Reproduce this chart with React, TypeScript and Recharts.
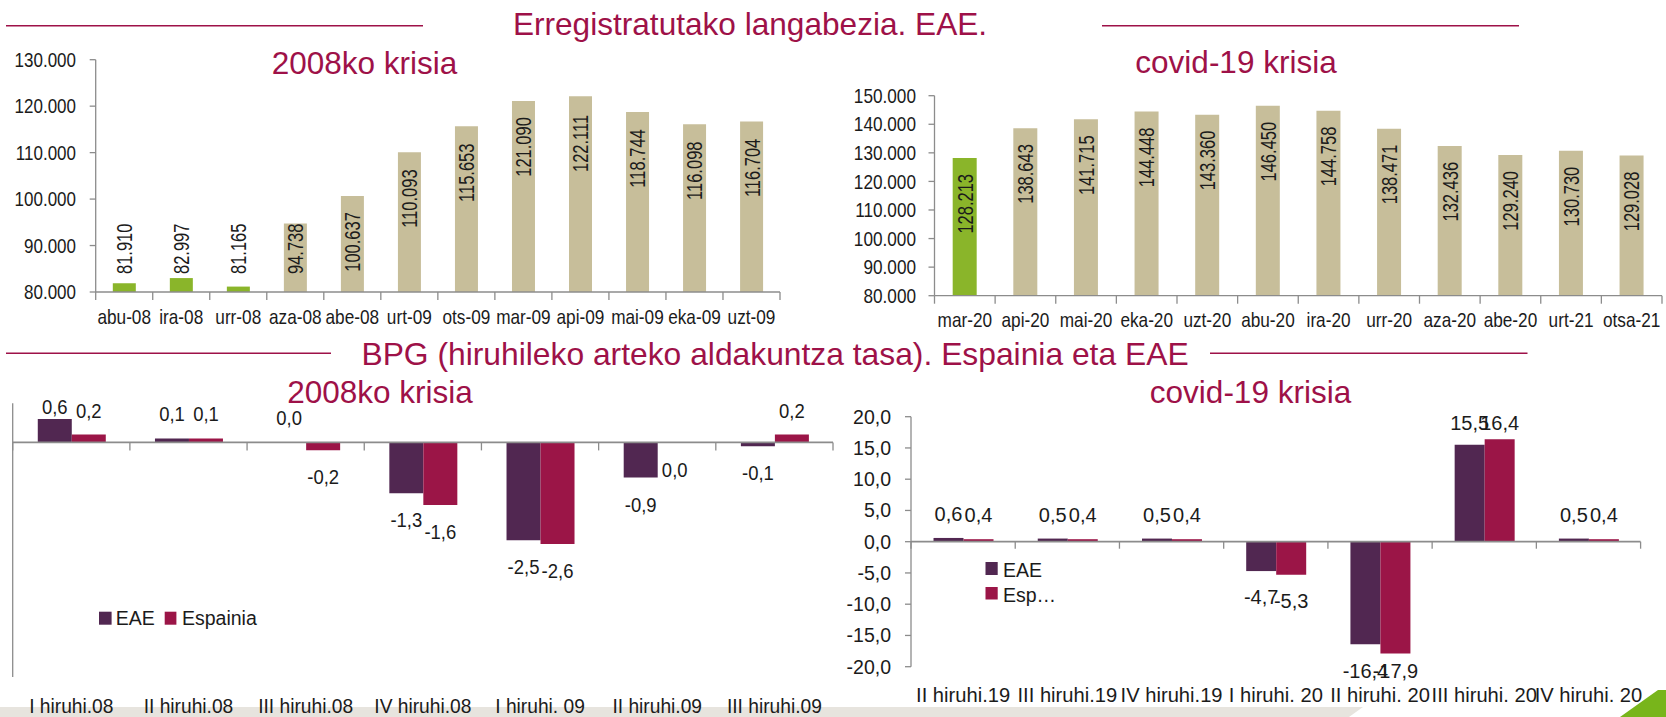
import React from 'react';
import { BarChart, Bar, XAxis, YAxis, Cell, ReferenceLine } from 'recharts';

const W = 1666;
const H = 717;
const FONT = '"Liberation Sans", Arial, Helvetica, sans-serif';
const INK = '#1b1b1b';
const TITLE = '#9E1148';
const AXIS = '#8C8C8C';
const GREEN = '#8AB52A';
const TAN = '#C7BE9A';
const EAE_C = '#512751';
const ESP_C = '#9B1547';

// ---------------- data ----------------
const mainTitleUnemp = 'Erregistratutako langabezia. EAE.';
const mainTitleGdp = 'BPG (hiruhileko arteko aldakuntza tasa). Espainia eta EAE';
const crisis2008 = '2008ko krisia';
const crisisCovid = 'covid-19 krisia';

const unempMonths2008 = ['abu-08', 'ira-08', 'urr-08', 'aza-08', 'abe-08', 'urt-09', 'ots-09', 'mar-09', 'api-09', 'mai-09', 'eka-09', 'uzt-09'];
const unemp2008 = [81910, 82997, 81165, 94738, 100637, 110093, 115653, 121090, 122111, 118744, 116098, 116704];
const unempGreen2008 = ['abu-08', 'ira-08', 'urr-08'];
const unempTicks2008 = [80000, 90000, 100000, 110000, 120000, 130000];

const unempMonthsCovid = ['mar-20', 'api-20', 'mai-20', 'eka-20', 'uzt-20', 'abu-20', 'ira-20', 'urr-20', 'aza-20', 'abe-20', 'urt-21', 'otsa-21'];
const unempCovid = [128213, 138643, 141715, 144448, 143360, 146450, 144758, 138471, 132436, 129240, 130730, 129028];
const unempGreenCovid = ['mar-20'];
const unempTicksCovid = [80000, 90000, 100000, 110000, 120000, 130000, 140000, 150000];

const gdpQuarters2008 = ['I hiruhi.08', 'II hiruhi.08', 'III hiruhi.08', 'IV hiruhi.08', 'I hiruhi. 09', 'II hiruhi.09', 'III hiruhi.09'];
const gdpEae2008 = [0.6, 0.1, 0.01, -1.3, -2.5, -0.9, -0.1];
const gdpEsp2008 = [0.2, 0.1, -0.2, -1.6, -2.6, -0.01, 0.2];
const gdpTicks2008 = [-6, -5, -4, -3, -2, -1, 0, 1];

const gdpQuartersCovid = ['II hiruhi.19', 'III hiruhi.19', 'IV hiruhi.19', 'I hiruhi. 20', 'II hiruhi. 20', 'III hiruhi. 20', 'IV hiruhi. 20'];
const gdpEaeCovid = [0.6, 0.5, 0.5, -4.7, -16.4, 15.5, 0.5];
const gdpEspCovid = [0.4, 0.4, 0.4, -5.3, -17.9, 16.4, 0.4];
const gdpTicksCovid = [-20, -15, -10, -5, 0, 5, 10, 15, 20];

const seriesEae = 'EAE';
const seriesEsp = 'Espainia';
const seriesEspShort = 'Esp…';

// ---------------- helpers ----------------
const fmtThousands = (v: number) => String(Math.round(v)).replace(/\B(?=(\d{3})+(?!\d))/g, '.');
const fmtComma = (v: number) => (Math.abs(v) < 0.05 ? '0,0' : v.toFixed(1).replace('.', ','));
const emWidth = (s: string) => {
  let w = 0;
  for (const ch of s) w += /[0-9]/.test(ch) ? 0.556 : ch === '-' ? 0.333 : 0.278;
  return w;
};

type Box = { left: number; right: number; top: number; bottom: number };

function STxt(props: any) {
  const { x, y, sx = 1, anchor = 'middle', size, fill = INK, rot = 0, dy, children } = props;
  const t = `translate(${x},${y})${rot ? ` rotate(${rot})` : ''} scale(${sx},1)`;
  return (
    <text transform={t} textAnchor={anchor} fontSize={size} fontFamily={FONT} fill={fill} dy={dy}>
      {children}
    </text>
  );
}

function makeCatTick(box: Box, n: number, o: { base: number; size: number; sx: number; lineY?: number; tickLen: number }) {
  const bw = (box.right - box.left) / n;
  return (p: any) => {
    const { x, payload, index } = p;
    const ly = o.lineY ?? box.bottom;
    const marks = [x - bw / 2];
    if (index === n - 1) marks.push(x + bw / 2);
    return (
      <g>
        {marks.map((mx, k) => (
          <line key={k} x1={mx} x2={mx} y1={ly} y2={ly + o.tickLen} stroke={AXIS} strokeWidth={1.3} />
        ))}
        <STxt x={x} y={box.bottom + o.base} size={o.size} sx={o.sx}>
          {payload.value}
        </STxt>
      </g>
    );
  };
}

function makeValTick(fmt: (v: number) => string, size: number, sx: number) {
  return (p: any) => (
    <STxt x={p.x} y={p.y} anchor="end" size={size} sx={sx} dy="0.355em">
      {fmt(p.payload.value)}
    </STxt>
  );
}

function geom(p: any) {
  const vb = p.viewBox && typeof p.viewBox.x === 'number' ? p.viewBox : p;
  const x = vb.x, y = vb.y, w = vb.width, h = vb.height;
  return { cx: x + w / 2, top: Math.min(y, y + h), bottom: Math.max(y, y + h) };
}

function makeRotLabel(box: Box, values: number[]) {
  return (p: any) => {
    const { cx, top } = geom(p);
    const v = typeof p.value === 'number' ? p.value : values[p.index];
    const s = fmtThousands(v);
    const fs = 22, sx = 0.75;
    const L = fs * sx * emWidth(s);
    const ys = Math.min(top + 16 + L, box.bottom - 18);
    return (
      <STxt x={cx} y={ys} rot={-90} sx={sx} anchor="start" size={fs} dy="0.36em">
        {s}
      </STxt>
    );
  };
}

function makeGdpLabel(box: Box, values: number[], o: { size: number; sx: number; clamp: number; negGap: number; negClamp: number }) {
  return (p: any) => {
    const { cx, top, bottom } = geom(p);
    const v = typeof p.value === 'number' ? p.value : values[p.index];
    const base = v >= 0
      ? Math.max(top - 17, box.top + o.clamp)
      : Math.min(bottom + o.negGap, box.bottom + o.negClamp);
    return (
      <STxt x={cx} y={base} size={o.size} sx={o.sx}>
        {fmtComma(v)}
      </STxt>
    );
  };
}

const XH = 40;
function marginFor(box: Box, yw: number) {
  return { top: box.top, right: W - box.right, bottom: H - box.bottom - XH, left: box.left - yw };
}
const layer: React.CSSProperties = { position: 'absolute', left: 0, top: 0 };

// ---------------- charts ----------------
function UnempChart(props: { cats: string[]; vals: number[]; green: string[]; ticks: number[]; box: Box; yw: number; tickMargin: number; ySize: number; ySx: number }) {
  const { cats, vals, green, ticks, box, yw, tickMargin, ySize, ySx } = props;
  const data = cats.map((c, i) => ({ cat: c, v: vals[i] }));
  return (
    <div style={layer}>
      <BarChart width={W} height={H} data={data} margin={marginFor(box, yw)} barCategoryGap="30%">
        <XAxis
          dataKey="cat"
          height={XH}
          interval={0}
          tickSize={0}
          tickMargin={0}
          tickLine={false}
          axisLine={{ stroke: AXIS, strokeWidth: 1.3 }}
          tick={makeCatTick(box, cats.length, { base: 31.5, size: 21, sx: 0.82, tickLen: 8 })}
        />
        <YAxis
          width={yw}
          type="number"
          domain={[ticks[0], ticks[ticks.length - 1]]}
          ticks={ticks}
          interval={0}
          tickSize={6}
          tickMargin={tickMargin}
          axisLine={{ stroke: AXIS, strokeWidth: 1.3 }}
          tickLine={{ stroke: AXIS, strokeWidth: 1.3 }}
          tick={makeValTick(fmtThousands, ySize, ySx)}
        />
        <Bar dataKey="v" isAnimationActive={false} label={makeRotLabel(box, vals)}>
          {data.map((d) => (
            <Cell key={d.cat} fill={green.includes(d.cat) ? GREEN : TAN} />
          ))}
        </Bar>
      </BarChart>
    </div>
  );
}

function GdpChart(props: {
  cats: string[]; eae: number[]; esp: number[]; ticks: number[]; box: Box; yw: number; tickMargin: number;
  showYLabels: boolean; ySize: number; xBase: number; xSize: number; xSx: number; tickLen: number;
  lSize: number; lSx: number; clamp: number; negGap: number; negClamp: number; gap: string;
}) {
  const p = props;
  const data = p.cats.map((c, i) => ({ cat: c, eae: p.eae[i], esp: p.esp[i] }));
  const lo = p.ticks[0], hi = p.ticks[p.ticks.length - 1];
  const zeroY = p.box.top + ((hi - 0) / (hi - lo)) * (p.box.bottom - p.box.top);
  const lab = { size: p.lSize, sx: p.lSx, clamp: p.clamp, negGap: p.negGap, negClamp: p.negClamp };
  return (
    <div style={layer}>
      <BarChart width={W} height={H} data={data} margin={marginFor(p.box, p.yw)} barCategoryGap={p.gap} barGap={0}>
        <XAxis
          dataKey="cat"
          height={XH}
          interval={0}
          tickSize={0}
          tickMargin={0}
          tickLine={false}
          axisLine={false}
          tick={makeCatTick(p.box, p.cats.length, { base: p.xBase, size: p.xSize, sx: p.xSx, lineY: zeroY, tickLen: p.tickLen })}
        />
        <YAxis
          width={p.yw}
          type="number"
          domain={[lo, hi]}
          ticks={p.ticks}
          interval={0}
          tickSize={6}
          tickMargin={p.tickMargin}
          axisLine={{ stroke: AXIS, strokeWidth: 1.3 }}
          tickLine={{ stroke: AXIS, strokeWidth: 1.3 }}
          tick={p.showYLabels ? makeValTick(fmtComma, p.ySize, 1) : false}
        />
        <ReferenceLine y={0} stroke={AXIS} strokeWidth={1.8} />
        <Bar dataKey="eae" name={seriesEae} fill={EAE_C} isAnimationActive={false} label={makeGdpLabel(p.box, p.eae, lab)} />
        <Bar dataKey="esp" name={seriesEsp} fill={ESP_C} isAnimationActive={false} label={makeGdpLabel(p.box, p.esp, lab)} />
      </BarChart>
    </div>
  );
}

const boxTL: Box = { left: 95.7, right: 780, top: 59.7, bottom: 292 };
const boxTR: Box = { left: 934.5, right: 1662, top: 95.7, bottom: 295.7 };
const boxBL: Box = { left: 12.7, right: 833, top: 403.3, bottom: 677 };
const boxBR: Box = { left: 911, right: 1640.6, top: 416.7, bottom: 666.7 };

export default function App() {
  return (
    <div style={{ position: 'absolute', left: 0, top: 0, width: W, height: H, background: '#fff', overflow: 'hidden' }}>
      <svg style={layer} width={W} height={H}>
        <polygon points="0,707 1363,707 1349,717 0,717" fill="#E7E4DE" />
        <polygon points="1620,717 1658,690 1666,690 1666,717" fill="#78B51B" />
      </svg>

      <UnempChart cats={unempMonths2008} vals={unemp2008} green={unempGreen2008} ticks={unempTicks2008}
        box={boxTL} yw={95} tickMargin={13.7} ySize={20} ySx={0.85} />
      <UnempChart cats={unempMonthsCovid} vals={unempCovid} green={unempGreenCovid} ticks={unempTicksCovid}
        box={boxTR} yw={100} tickMargin={12.5} ySize={20} ySx={0.86} />

      <GdpChart cats={gdpQuarters2008} eae={gdpEae2008} esp={gdpEsp2008} ticks={gdpTicks2008} box={boxBL}
        yw={12.7} tickMargin={2} showYLabels={false} ySize={20} xBase={35.7} xSize={20} xSx={0.96} tickLen={8}
        lSize={21} lSx={0.88} clamp={10.7} negGap={34} negClamp={40} gap="21.4%" />
      <GdpChart cats={gdpQuartersCovid} eae={gdpEaeCovid} esp={gdpEspCovid} ticks={gdpTicksCovid} box={boxBR}
        yw={100} tickMargin={14} showYLabels={true} ySize={19.5} xBase={35} xSize={21} xSx={0.96} tickLen={7}
        lSize={20} lSx={1} clamp={13} negGap={33.3} negClamp={11.5} gap="21.6%" />

      <svg style={layer} width={W} height={H}>
        <line x1={6} x2={423} y1={25.7} y2={25.7} stroke={TITLE} strokeWidth={1.5} />
        <line x1={1102} x2={1519} y1={25.7} y2={25.7} stroke={TITLE} strokeWidth={1.5} />
        <STxt x={750} y={35} size={31.6} fill={TITLE}>{mainTitleUnemp}</STxt>
        <STxt x={364.5} y={74} size={31.5} fill={TITLE}>{crisis2008}</STxt>
        <STxt x={1236} y={73} size={31.5} fill={TITLE}>{crisisCovid}</STxt>

        <line x1={6} x2={331} y1={353.3} y2={353.3} stroke={TITLE} strokeWidth={1.5} />
        <line x1={1210} x2={1527.5} y1={353.3} y2={353.3} stroke={TITLE} strokeWidth={1.5} />
        <STxt x={775} y={365} size={31.8} fill={TITLE}>{mainTitleGdp}</STxt>
        <STxt x={380} y={403.3} size={31.5} fill={TITLE}>{crisis2008}</STxt>
        <STxt x={1250.5} y={403} size={31.5} fill={TITLE}>{crisisCovid}</STxt>

        <rect x={99} y={611.7} width={12.6} height={13} fill={EAE_C} />
        <STxt x={115.8} y={625} size={19.5} anchor="start">{seriesEae}</STxt>
        <rect x={164.7} y={611.7} width={11.7} height={13} fill={ESP_C} />
        <STxt x={182} y={625} size={19.5} anchor="start">{seriesEsp}</STxt>

        <rect x={985.5} y={562} width={12.2} height={13} fill={EAE_C} />
        <STxt x={1003} y={576.7} size={19.5} anchor="start">{seriesEae}</STxt>
        <rect x={985.5} y={587} width={12.2} height={12.5} fill={ESP_C} />
        <STxt x={1003} y={601.7} size={19.5} anchor="start">{seriesEspShort}</STxt>
      </svg>
    </div>
  );
}
